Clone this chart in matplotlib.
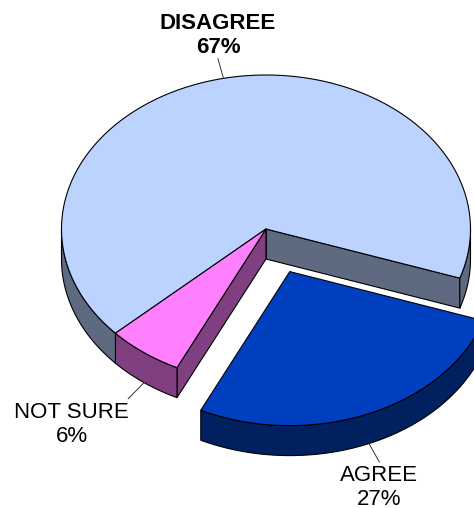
import numpy as np
import matplotlib.pyplot as plt
from matplotlib.patches import Polygon

labels = ['DISAGREE', 'NOT SURE', 'AGREE']
values = [67, 6, 27]
top_colors = ['#BCD3FF', '#FF80FF', '#003FBF']
side_colors = ['#5E6A80', '#803F80', '#00205F']
explode = [0, 0, 0.3]
bold = [True, False, False]

# pie geometry in pixel space (y grows downward)
cx, cy = 266, 229
rx, ry = 204.5, 154
depth = 30
start = -18.6

fig = plt.figure(figsize=(4.74, 5.08), dpi=100)
ax = fig.add_axes([0, 0, 1, 1])
ax.set_xlim(0, 474)
ax.set_ylim(508, 0)
ax.axis('off')


def arc(ox, oy, a, b, n=200):
    t = np.radians(np.linspace(a, b, n))
    return np.column_stack([ox + rx * np.cos(t), oy - ry * np.sin(t)])


def face(pts, color):
    ax.add_patch(Polygon(pts, closed=True, facecolor=color, edgecolor='black',
                         linewidth=0.8, joinstyle='round'))


total = sum(values)
a0 = start
for lab, v, ct, cs, ex, b in zip(labels, values, top_colors, side_colors, explode, bold):
    a1 = a0 + 360.0 * v / total
    mid = (a0 + a1) / 2
    m = np.radians(mid)
    ox = cx + ex * rx * np.cos(m)
    oy = cy - ex * ry * np.sin(m)

    # radial walls facing the viewer
    for a, normal in ((a0, a0 - 90), (a1, a1 + 90)):
        if np.sin(np.radians(normal)) < 0:
            x = ox + rx * np.cos(np.radians(a))
            y = oy - ry * np.sin(np.radians(a))
            face([(ox, oy), (x, y), (x, y + depth), (ox, oy + depth)], cs)

    # outer wall, front half only
    for k in range(-1, 3):
        lo = max(a0, 180 + 360 * k)
        hi = min(a1, 360 + 360 * k)
        if hi > lo:
            top = arc(ox, oy, lo, hi)
            bot = top[::-1] + [0, depth]
            face(np.vstack([top, bot]), cs)

    # top surface
    face(np.vstack([[ox, oy], arc(ox, oy, a0, a1)]), ct)

    # leader line and label
    front = np.sin(m) < 0
    dz = depth if front else 0
    x1 = ox + rx * np.cos(m)
    y1 = oy - ry * np.sin(m) + dz
    x2 = ox + 1.13 * rx * np.cos(m)
    y2 = oy - 1.13 * ry * np.sin(m) + dz
    ax.plot([x1, x2], [y1, y2], color='#333333', linewidth=0.7)
    txt = f'{lab}\n{v}%'
    weight = 'bold' if b else 'normal'
    if not front:
        ax.text(x2, y2 - 1, txt, ha='center', va='bottom', multialignment='center',
                fontsize=16, fontweight=weight, family='Liberation Sans')
    elif np.cos(m) < 0:
        ax.text(x2 + 1, y2 + 3, txt, ha='right', va='top', multialignment='center',
                fontsize=16, fontweight=weight, family='Liberation Sans')
    else:
        ax.text(x2, y2 + 3, txt, ha='center', va='top', multialignment='center',
                fontsize=16, fontweight=weight, family='Liberation Sans')
    a0 = a1

fig.savefig('out.png', dpi=100)
